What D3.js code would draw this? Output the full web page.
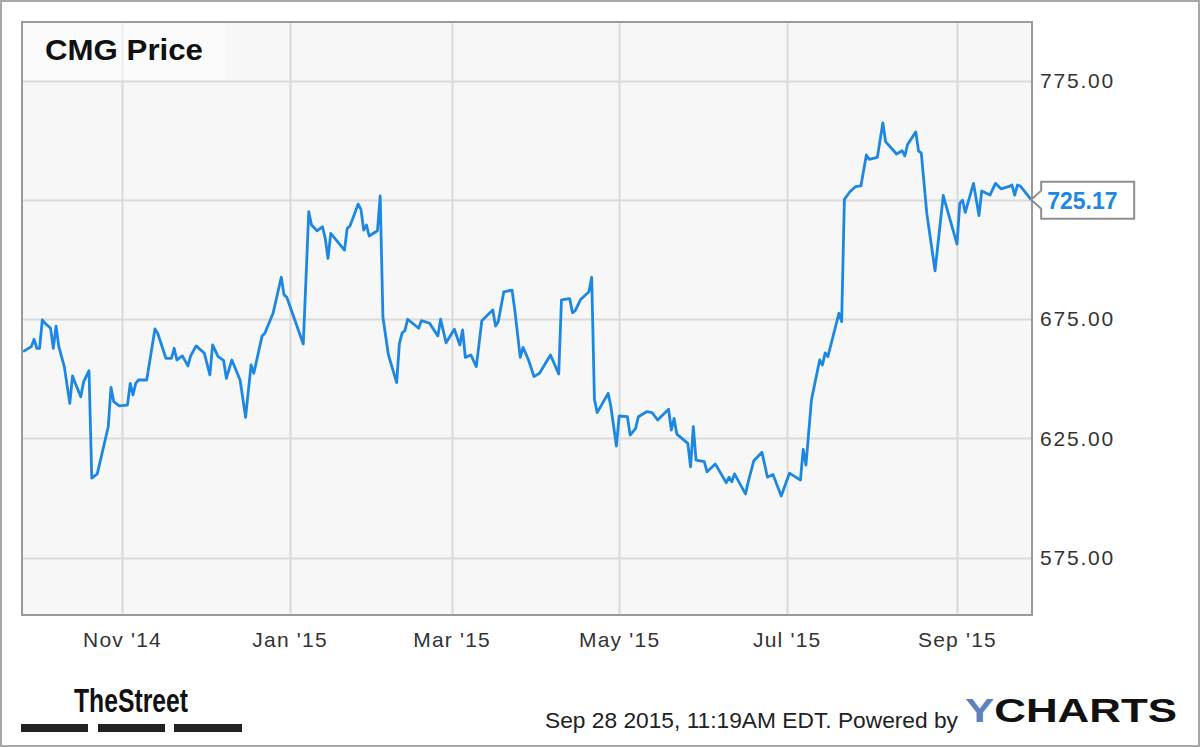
<!DOCTYPE html>
<html><head><meta charset="utf-8">
<script src="https://cdn.jsdelivr.net/npm/d3@7"></script>
<style>html,body{margin:0;padding:0;background:#fff;}svg{display:block;}</style>
</head><body>
<svg id="chart" width="1200" height="747"></svg>
<script>
const title = "CMG Price";
const dates = ["2014-09-26","2014-09-29","2014-09-30","2014-10-01","2014-10-02","2014-10-03","2014-10-04","2014-10-06","2014-10-07","2014-10-08","2014-10-09","2014-10-11","2014-10-13","2014-10-14","2014-10-15","2014-10-17","2014-10-18","2014-10-20","2014-10-21","2014-10-23","2014-10-27","2014-10-28","2014-10-29","2014-10-31","2014-11-03","2014-11-04","2014-11-05","2014-11-06","2014-11-07","2014-11-10","2014-11-13","2014-11-14","2014-11-17","2014-11-19","2014-11-20","2014-11-21","2014-11-23","2014-11-25","2014-11-26","2014-11-28","2014-12-01","2014-12-03","2014-12-04","2014-12-06","2014-12-08","2014-12-09","2014-12-11","2014-12-14","2014-12-16","2014-12-18","2014-12-19","2014-12-22","2014-12-23","2014-12-26","2014-12-29","2014-12-30","2014-12-31","2015-01-06","2015-01-08","2015-01-09","2015-01-11","2015-01-13","2015-01-14","2015-01-15","2015-01-16","2015-01-21","2015-01-22","2015-01-23","2015-01-26","2015-01-27","2015-01-28","2015-01-29","2015-01-30","2015-02-02","2015-02-03","2015-02-04","2015-02-06","2015-02-09","2015-02-10","2015-02-11","2015-02-12","2015-02-13","2015-02-17","2015-02-18","2015-02-21","2015-02-24","2015-02-25","2015-02-27","2015-03-02","2015-03-04","2015-03-05","2015-03-06","2015-03-08","2015-03-10","2015-03-12","2015-03-16","2015-03-17","2015-03-18","2015-03-20","2015-03-23","2015-03-24","2015-03-26","2015-03-27","2015-03-29","2015-03-31","2015-04-02","2015-04-06","2015-04-09","2015-04-10","2015-04-13","2015-04-14","2015-04-15","2015-04-17","2015-04-20","2015-04-21","2015-04-22","2015-04-23","2015-04-27","2015-04-28","2015-04-30","2015-05-01","2015-05-04","2015-05-05","2015-05-07","2015-05-08","2015-05-11","2015-05-13","2015-05-15","2015-05-19","2015-05-20","2015-05-21","2015-05-22","2015-05-26","2015-05-27","2015-05-28","2015-05-29","2015-06-01","2015-06-02","2015-06-05","2015-06-09","2015-06-10","2015-06-11","2015-06-12","2015-06-16","2015-06-17","2015-06-19","2015-06-22","2015-06-24","2015-06-26","2015-06-29","2015-07-02","2015-07-06","2015-07-07","2015-07-08","2015-07-10","2015-07-13","2015-07-14","2015-07-15","2015-07-16","2015-07-20","2015-07-21","2015-07-22","2015-07-24","2015-07-26","2015-07-28","2015-07-30","2015-07-31","2015-08-03","2015-08-05","2015-08-06","2015-08-10","2015-08-12","2015-08-13","2015-08-14","2015-08-17","2015-08-18","2015-08-19","2015-08-21","2015-08-24","2015-08-27","2015-09-01","2015-09-02","2015-09-03","2015-09-04","2015-09-07","2015-09-09","2015-09-10","2015-09-13","2015-09-15","2015-09-17","2015-09-20","2015-09-21","2015-09-22","2015-09-23","2015-09-24","2015-09-28"];
const prices = [661.4,663.5,666.6,662.8,662.8,674.7,673.3,671.2,662.8,672.1,663.5,655.1,639.7,651.2,648.1,642.5,648.6,653.4,608.3,610.1,629.9,646.4,640.4,638.6,639.0,648.1,643.2,648.1,649.5,649.5,670.9,669.1,658.6,658.6,662.8,657.9,659.6,655.4,659.6,663.8,660.7,651.6,664.2,659.3,657.7,650.2,657.9,649.5,633.8,655.8,652.3,668.0,669.1,677.5,692.6,685.2,684.2,664.6,720.1,714.5,712.1,713.8,708.9,700.5,711.0,704.0,713.1,714.1,723.3,721.1,712.4,714.5,709.9,712.1,726.7,675.8,660.0,648.4,664.9,669.3,670.2,675.0,671.2,674.4,673.3,668.0,675.0,665.1,670.8,664.2,670.5,659.0,660.0,655.1,674.4,678.9,672.1,674.0,686.5,687.2,678.9,659.0,663.2,657.9,650.9,652.3,660.0,652.0,683.1,683.6,677.7,678.6,683.3,686.5,692.6,641.4,635.8,643.9,638.3,621.8,634.4,634.1,626.4,629.2,634.1,636.2,635.8,632.7,637.2,628.5,633.4,626.8,622.9,613.1,629.9,615.9,615.2,611.0,614.3,606.4,608.7,606.8,610.1,601.7,606.8,615.6,619.2,608.7,609.9,600.8,610.4,607.5,620.4,613.8,641.1,657.9,655.8,660.9,659.3,677.5,674.0,725.3,728.5,730.6,730.9,743.9,742.1,742.9,757.4,749.5,744.3,745.7,743.5,748.3,753.6,745.6,744.7,719.4,695.3,726.9,706.5,723.6,724.9,719.8,732.0,718.5,728.8,727.1,732.0,729.7,730.7,731.3,727.1,731.3,730.9,725.17];
const yTicks = [575, 625, 675, 725, 775];
const xTickLabels = ["Nov '14","Jan '15","Mar '15","May '15","Jul '15","Sep '15"];
const lastLabel = "725.17";
const footerText = "Sep 28 2015, 11:19AM EDT.  Powered by";

const svg = d3.select("#chart");
const W = 1200, H = 747;
const m = {left: 22, right: 1032, top: 22, bottom: 615};
const parse = d3.utcParse("%Y-%m-%d");
const data = dates.map((d, i) => ({date: parse(d), value: prices[i]}));

const x = d3.scaleUtc()
  .domain([new Date(Date.UTC(2014, 8, 25, 14, 24)), new Date(Date.UTC(2015, 8, 28, 7, 12))])
  .range([m.left, m.right]);
const y = d3.scaleLinear().domain([550.9, 799.7]).range([m.bottom, m.top]);

// outer frame
svg.append("rect").attr("x", 1).attr("y", 1).attr("width", W - 2).attr("height", H - 2)
  .attr("fill", "#fff").attr("stroke", "#a8a8a8").attr("stroke-width", 2);

// plot background
svg.append("rect").attr("x", m.left).attr("y", m.top)
  .attr("width", m.right - m.left).attr("height", m.bottom - m.top)
  .attr("fill", "#f7f7f7");

// gridlines
const xTicks = d3.utcMonth.every(2).range(x.domain()[0], x.domain()[1]);
svg.append("g").selectAll("line").data(xTicks).join("line")
  .attr("x1", d => Math.round(x(d)) + 0.5).attr("x2", d => Math.round(x(d)) + 0.5)
  .attr("y1", m.top).attr("y2", m.bottom)
  .attr("stroke", "#dadada").attr("stroke-width", 2);
svg.append("g").selectAll("line").data(yTicks).join("line")
  .attr("x1", m.left).attr("x2", m.right)
  .attr("y1", d => Math.round(y(d)) + 0.5).attr("y2", d => Math.round(y(d)) + 0.5)
  .attr("stroke", "#dadada").attr("stroke-width", 2);

// title box
svg.append("rect").attr("x", m.left + 1).attr("y", m.top + 1).attr("width", 203).attr("height", 57)
  .attr("fill", "#ffffff").attr("opacity", 0.55);
svg.append("text").attr("x", 45).attr("y", 60).text(title)
  .attr("font-family", "Liberation Sans, Arial, sans-serif").attr("font-weight", "bold")
  .attr("font-size", 30).attr("fill", "#111")
  .attr("textLength", 158).attr("lengthAdjust", "spacingAndGlyphs");

// line
svg.append("path").datum(data)
  .attr("d", d3.line().x(d => x(d.date)).y(d => y(d.value)))
  .attr("fill", "none").attr("stroke", "#1d87e4").attr("stroke-width", 2.8)
  .attr("stroke-linejoin", "round");

// plot border
svg.append("rect").attr("x", m.left).attr("y", m.top)
  .attr("width", m.right - m.left).attr("height", m.bottom - m.top)
  .attr("fill", "none").attr("stroke", "#9a9a9a").attr("stroke-width", 2);

// last value (used to hide the axis label it covers)
const last = data[data.length - 1];
const lx = x(last.date), ly = y(last.value);

// y axis (right)
const yAxis = d3.axisRight(y).tickValues(yTicks.filter(v => Math.abs(y(v) - ly) > 24))
  .tickFormat(d3.format(".2f")).tickSize(0).tickPadding(8);
const gy = svg.append("g").attr("transform", `translate(${m.right},0)`).call(yAxis);
gy.select(".domain").remove();
gy.selectAll("text").attr("font-family", "Liberation Sans, Arial, sans-serif")
  .attr("font-size", 21).attr("letter-spacing", 1.8).attr("fill", "#333");

// x axis
const xAxis = d3.axisBottom(x).tickValues(xTicks).tickFormat((d, i) => xTickLabels[i]).tickSize(0).tickPadding(16);
const gx = svg.append("g").attr("transform", `translate(0,${m.bottom})`).call(xAxis);
gx.select(".domain").remove();
gx.selectAll("text").attr("font-family", "Liberation Sans, Arial, sans-serif")
  .attr("font-size", 21).attr("letter-spacing", 1.2).attr("fill", "#333").attr("dy", "0.75em");

// last value label
svg.append("path")
  .attr("d", `M${lx},${ly} L${lx + 10},${ly - 9} L${lx + 10},${ly - 18} L${lx + 103},${ly - 18} L${lx + 103},${ly + 19} L${lx + 10},${ly + 19} L${lx + 10},${ly + 9} Z`)
  .attr("fill", "#fff").attr("stroke", "#8f8f8f").attr("stroke-width", 2);
svg.append("text").attr("x", lx + 16).attr("y", ly + 9).text(lastLabel)
  .attr("font-family", "Liberation Sans, Arial, sans-serif").attr("font-weight", "bold")
  .attr("font-size", 23).attr("fill", "#1d87e4");

// footer: TheStreet logo
svg.append("text").attr("x", 74).attr("y", 712).text("TheStreet")
  .attr("font-family", "Liberation Sans, Arial, sans-serif").attr("font-weight", "bold")
  .attr("font-size", 34).attr("fill", "#111")
  .attr("textLength", 114).attr("lengthAdjust", "spacingAndGlyphs");
[[21, 88], [98, 165], [174, 242]].forEach(([a, b]) => {
  svg.append("rect").attr("x", a).attr("y", 724).attr("width", b - a).attr("height", 8).attr("fill", "#222");
});

// footer text
svg.append("text").attr("x", 545).attr("y", 728).text(footerText)
  .attr("font-family", "Liberation Sans, Arial, sans-serif").attr("font-size", 22).attr("fill", "#222")
  .attr("textLength", 413).attr("lengthAdjust", "spacingAndGlyphs");
const yc = svg.append("text").attr("x", 965).attr("y", 722)
  .attr("font-family", "Liberation Sans, Arial, sans-serif").attr("font-weight", "bold")
  .attr("font-size", 34).attr("textLength", 212).attr("lengthAdjust", "spacingAndGlyphs");
yc.append("tspan").attr("fill", "#5a83c0").text("Y");
yc.append("tspan").attr("fill", "#111").text("CHARTS");
</script>
</body></html>
